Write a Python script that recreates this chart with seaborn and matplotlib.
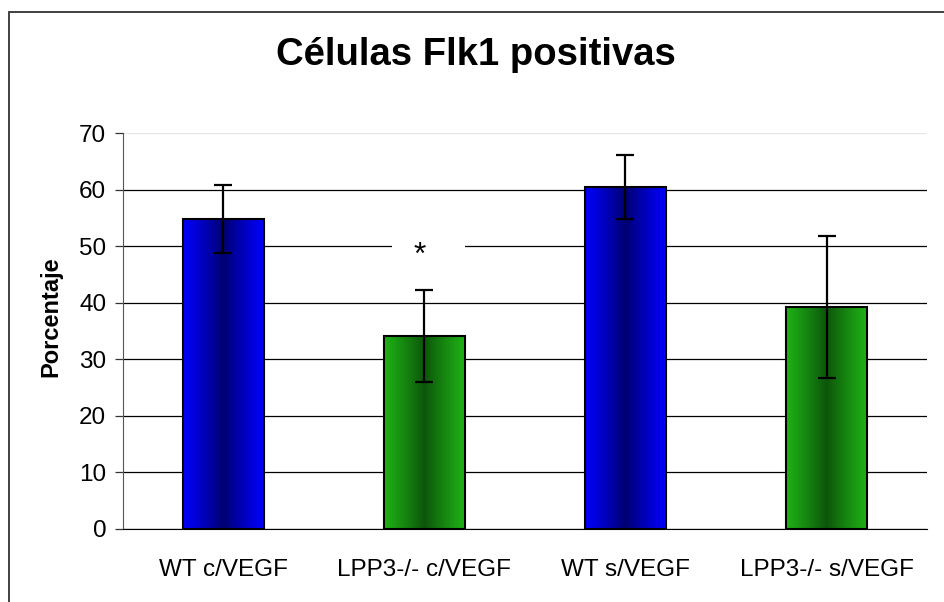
import numpy as np
import pandas as pd
import seaborn as sns
import matplotlib.pyplot as plt
from matplotlib.colors import to_rgb
from matplotlib.patches import Rectangle

# data
groups = ["WT c/VEGF", "LPP3-/- c/VEGF", "WT s/VEGF", "LPP3-/- s/VEGF"]
porcentaje = [54.8, 34.1, 60.5, 39.2]
error = [6.0, 8.2, 5.7, 12.6]
# light (edge) and dark (centre) colour of each bar's gradient
edge_colors = ["#0000ff", "#1fb216", "#0000ff", "#1fb216"]
centre_colors = ["#000070", "#0c540a", "#000070", "#0c540a"]
yticks = [0, 10, 20, 30, 40, 50, 60, 70]


def gradient_image(light, dark, n=200):
    """horizontal gradient: light at both sides, dark in the middle"""
    t = np.abs(np.linspace(-1, 1, n)) ** 0.9
    light = np.array(to_rgb(light))
    dark = np.array(to_rgb(dark))
    row = dark + (light - dark) * t[:, None]
    return row[None, :, :]


sns.set_style("white")
plt.rcParams['font.family'] = ['Liberation Sans', 'DejaVu Sans']
plt.rcParams.update({"text.color": "black", "axes.labelcolor": "black",
                     "xtick.color": "black", "ytick.color": "black"})

df = pd.DataFrame({"grupo": groups, "porcentaje": porcentaje})

fig = plt.figure(figsize=(9.45, 6.02), dpi=100)
ax = fig.add_axes([0.130, 0.122, 0.851, 0.657])

sns.barplot(data=df, x="grupo", y="porcentaje", hue="grupo", palette=edge_colors,
            legend=False, width=0.4, edgecolor="black", linewidth=1.5, ax=ax, zorder=3)

# replace flat fill with the Excel-like gradient
for patch, light, dark in zip(ax.patches, edge_colors, centre_colors):
    x0, y0 = patch.get_x(), patch.get_y()
    w, h = patch.get_width(), patch.get_height()
    im = ax.imshow(gradient_image(light, dark), extent=(x0, x0 + w, y0, y0 + h),
                   aspect="auto", zorder=3.1, interpolation="bilinear")
    im.set_clip_path(patch)
    patch.set_facecolor("none")
    patch.set_zorder(3.2)

ax.errorbar(np.arange(len(groups)), porcentaje, yerr=error, fmt="none",
            ecolor="black", elinewidth=1.6, capsize=6.3, capthick=1.6, zorder=4)

ax.set_xlim(-0.5, len(groups) - 0.5)
ax.set_ylim(0, 70)
ax.set_yticks(yticks)
ax.set_xticks(np.arange(len(groups)))
ax.set_xticklabels(groups)
ax.set_xticks(np.arange(-0.5, len(groups), 1), minor=True)

ax.yaxis.grid(True, color="black", linewidth=0.9, zorder=0)
ax.set_axisbelow(True)
ax.yaxis.get_gridlines()[-1].set_color("#e6e6e6")

ax.tick_params(axis="x", which="major", length=0, pad=22, labelsize=17.5)
ax.tick_params(axis="x", which="minor", length=6, width=0.9, color="#333333", direction="out")
ax.tick_params(axis="y", length=6, width=0.9, color="#333333", direction="out",
               pad=6, labelsize=17.5, left=True)

for side in ["top", "right"]:
    ax.spines[side].set_visible(False)
ax.spines["left"].set_color("#555555")
ax.spines["bottom"].set_color("black")

ax.set_xlabel("")
ax.set_ylabel("Porcentaje", fontsize=17, fontweight="bold")
ax.yaxis.set_label_coords(-0.075, 0.535)

# significance mark, with a gap in the 50 gridline behind it
ax.hlines(50, 0.84, 1.2, color="white", linewidth=4, zorder=2)
ax.text(0.975, 48.3, "*", ha="center", va="center", fontsize=23, zorder=5)

fig.text(0.504, 0.892, "Células Flk1 positivas", ha="center", va="baseline",
         fontsize=27.5, fontweight="bold")

# outer chart border, open to the right and bottom like the cropped source
fig.patches.append(Rectangle((0.0095, -0.1), 1.2, 1.08, transform=fig.transFigure,
                             fill=False, edgecolor="#333333", linewidth=1.3))

fig.savefig("out.png", dpi=100)
